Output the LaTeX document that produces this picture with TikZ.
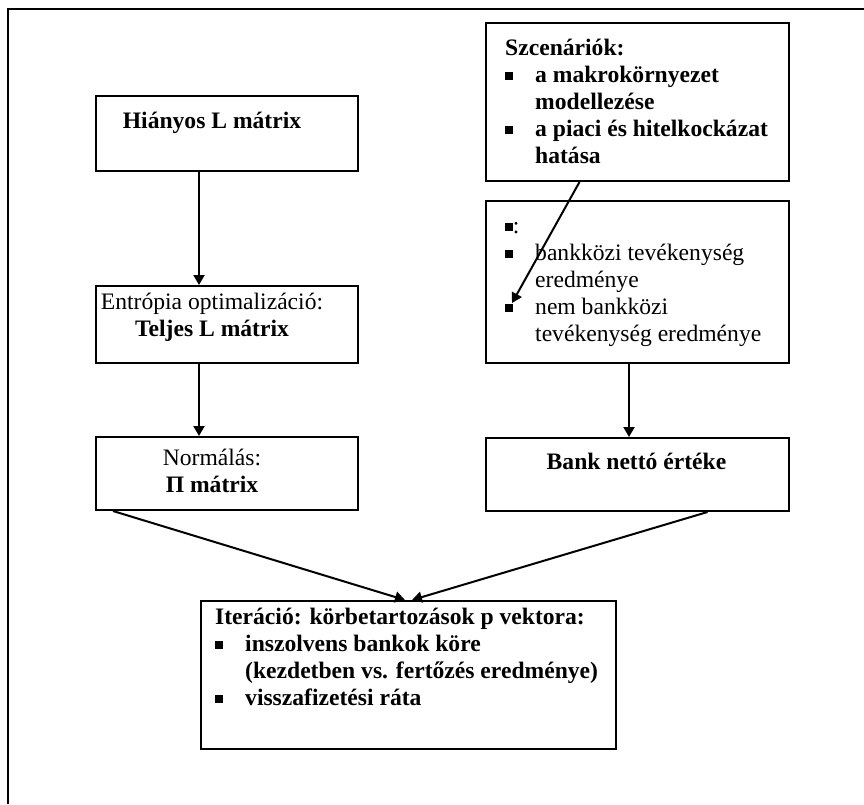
\documentclass[tikz,border=0pt]{standalone}
\usepackage{fontspec}
\setmainfont{Liberation Serif}
\usetikzlibrary{arrows.meta}
\newcommand{\bsq}{\rule[0.12em]{0.33em}{0.33em}}
\newcommand{\itm}[1]{\makebox[30pt][l]{\bsq}#1}
\newcommand{\cnt}[1]{\hspace*{30pt}#1}
\begin{document}
\begin{tikzpicture}[x=1pt,y=-1pt,
  box/.style={draw,line width=2pt,rectangle,inner sep=0pt,anchor=north west},
  txt/.style={inner sep=0pt,font=\fontsize{23.6}{27}\selectfont},
  ctxt/.style={txt,anchor=north,align=center},
  ltxt/.style={txt,anchor=north west,align=left},
  arr/.style={line width=2pt,-{Triangle[length=10pt,width=11pt]}},
  frame/.style={line width=2.5pt}]
\useasboundingbox (0,0) rectangle (864,804);
% outer frame
\coordinate (fl) at (8,804);
\coordinate (fc) at (8,9);
\coordinate (fm) at (505,9);
\coordinate (fr) at (864,9);
\draw[frame] (fl) -- (fc) -- (fm);
\draw[line width=1.6pt] (fm) -- (fr);
% left column
\node[box,minimum width=262pt,minimum height=75pt] (hl) at (95,95) {};
\node[ctxt] (thl) at (212,109.4) {\strut\bfseries Hiányos L mátrix};
\node[box,minimum width=262pt,minimum height=77pt] (ent) at (95,285) {};
\node[ctxt] (tent) at (212,290.4) {\strut Entrópia optimalizáció:\\\bfseries Teljes L mátrix};
\node[box,minimum width=262pt,minimum height=73pt] (norm) at (95,436) {};
\node[ctxt] (tnorm) at (212,446.4) {\strut Normálás:\\\bfseries Π mátrix};
% right column
\node[box,minimum width=303pt,minimum height=158pt] (szc) at (485,22) {};
\node[ltxt] (tszc) at (505,36.4) {\strut\bfseries Szcenáriók:\\
  \bfseries\itm{a makrokörnyezet}\\
  \bfseries\cnt{modellezése}\\
  \bfseries\itm{a piaci és hitelkockázat}\\
  \bfseries\cnt{hatása}};
\node[box,minimum width=303pt,minimum height=162pt] (tev) at (485,200) {};
\node[ltxt] (ttev) at (505,214.4) {\strut\bsq:\\
  \itm{bankközi tevékenység}\\
  \cnt{eredménye}\\
  \itm{nem bankközi}\\
  \cnt{tevékenység eredménye}};
\node[box,minimum width=303pt,minimum height=73pt] (bank) at (485,437) {};
\node[ctxt] (tbank) at (636.5,450.4) {\strut\bfseries Bank nettó értéke};
% bottom box
\node[box,minimum width=415pt,minimum height=148pt] (iter) at (200,600) {};
\node[ltxt] (titer) at (215,605.4) {\strut\bfseries Iteráció: körbetartozások p vektora:\\
  \bfseries\itm{inszolvens bankok köre}\\
  \bfseries\cnt{(kezdetben vs. fertőzés eredménye)}\\
  \bfseries\itm{visszafizetési ráta}};
% connectors
\draw[arr] ([xshift=-28pt]hl.south) -- ([xshift=-28pt]ent.north);
\draw[arr] ([xshift=-28pt]ent.south) -- ([xshift=-28pt]norm.north);
\draw[arr] ([xshift=-8.5pt]tev.south) -- ([xshift=-8.5pt]bank.north);
\coordinate (tip) at (512,303);
\draw[arr] ([xshift=-58pt]szc.south) -- (tip);
\draw[arr] ([xshift=-114pt]norm.south) -- ([xshift=-3.5pt]iter.north);
\draw[arr] ([xshift=70pt]bank.south) -- ([xshift=3.5pt]iter.north);
\end{tikzpicture}
\end{document}
